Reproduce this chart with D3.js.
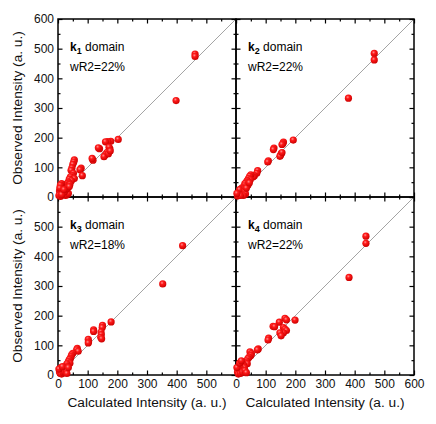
<!DOCTYPE html>
<html>
<head>
<meta charset="utf-8">
<script src="https://cdn.jsdelivr.net/npm/d3@7"></script>
<style>
    body { margin: 0; background: #fff; }
    text { font-family: "Liberation Sans", Arial, sans-serif; }
</style>
</head>
<body>
<div id="svg_container"></div>
<script>
// Calculated vs observed intensity, [calc, obs]
const k1Points = [
    [462, 482], [462, 474], [398, 325], [203, 194], [178, 188], [168, 187], [160, 186],
    [140, 163], [136, 166], [118, 124], [115, 130], [175, 162], [172, 168], [165, 150],
    [160, 142], [155, 136], [170, 146], [176, 155], [78, 97], [74, 92], [82, 72],
    [55, 125], [53, 118], [50, 110], [47, 98], [44, 90], [52, 80], [48, 72], [42, 68],
    [55, 62], [38, 60], [45, 55], [35, 50], [30, 45], [25, 40], [40, 42], [20, 35],
    [15, 30], [12, 45], [8, 40], [5, 20], [10, 15], [18, 10], [25, 5], [30, 8], [35, 12],
    [3, 5], [8, 2], [15, 22], [22, 18], [28, 25], [32, 30], [38, 35], [6, 30], [12, 8], [20, 25]
];
const k2Points = [
    [466, 484], [466, 462], [379, 333], [193, 192], [160, 185], [158, 180], [155, 177],
    [128, 165], [126, 160], [153, 147], [150, 141], [148, 137], [155, 150], [109, 122],
    [107, 118], [73, 89], [70, 80], [62, 72], [58, 68], [50, 75], [46, 70], [42, 62],
    [48, 58], [38, 55], [35, 50], [30, 45], [40, 40], [28, 38], [22, 32], [18, 28],
    [25, 25], [15, 20], [10, 15], [20, 12], [8, 8], [5, 3], [12, 25], [30, 20], [32, 10],
    [25, 5], [15, 5], [3, 12], [35, 30], [45, 48]
];
const k3Points = [
    [420, 436], [353, 307], [179, 179], [150, 167], [149, 160], [120, 152], [120, 147],
    [145, 145], [146, 136], [144, 127], [147, 122], [102, 120], [103, 112], [102, 108],
    [65, 90], [63, 85], [68, 80], [50, 73], [46, 68], [44, 62], [42, 56], [38, 52],
    [35, 45], [40, 40], [30, 38], [28, 30], [25, 25], [20, 20], [15, 15], [10, 25],
    [5, 10], [8, 5], [12, 3], [18, 8], [22, 12], [28, 15], [30, 5], [3, 20], [15, 28], [35, 25]
];
const k4Points = [
    [438, 468], [438, 444], [381, 329], [199, 185], [165, 191], [170, 186], [146, 178],
    [125, 164], [130, 163], [160, 160], [165, 155], [170, 150], [160, 142], [148, 142],
    [152, 132], [110, 124], [108, 118], [75, 88], [72, 85], [47, 78], [52, 72], [50, 66],
    [44, 60], [40, 55], [35, 48], [30, 42], [38, 38], [25, 35], [20, 30], [28, 25],
    [15, 22], [10, 18], [5, 10], [8, 3], [15, 5], [22, 10], [30, 15], [35, 8], [3, 25],
    [12, 40], [18, 48]
];

const domainNames = ["1", "2", "3", "4"];
const wR2Labels = ["wR2=22%", "wR2=22%", "wR2=18%", "wR2=22%"];
const majorTicks = [0, 100, 200, 300, 400, 500, 600];
const minorTicks = [50, 150, 250, 350, 450, 550];

function createChart() {
    let width = 436;
    let height = 424;
    let left = 58, top = 19, size = 178;

    const svg = d3.select('#svg_container').append("svg")
        .attr("width", width)
        .attr("height", height);

    // shaded ball look of the markers
    const grad = svg.append("defs").append("radialGradient")
        .attr("id", "ball")
        .attr("cx", "40%").attr("cy", "35%").attr("r", "65%");
    grad.append("stop").attr("offset", "0%").attr("stop-color", "#ff9090");
    grad.append("stop").attr("offset", "35%").attr("stop-color", "#ff1a1a");
    grad.append("stop").attr("offset", "100%").attr("stop-color", "#cc0000");

    let panels = [k1Points, k2Points, k3Points, k4Points].map((pts, i) => {
        return { pts: pts, col: i % 2, row: Math.floor(i / 2), name: domainNames[i], wr: wR2Labels[i] };
    });

    panels.forEach(p => {
        let x0 = left + p.col * size;
        let y0 = top + p.row * size;
        const x = d3.scaleLinear().domain([0, 600]).range([x0, x0 + size]);
        const y = d3.scaleLinear().domain([0, 600]).range([y0 + size, y0]);

        const g = svg.append("g");

        // y = x reference line
        g.append("line")
            .attr("x1", x(0)).attr("y1", y(0))
            .attr("x2", x(600)).attr("y2", y(600))
            .attr("stroke", "#9a9a9a")
            .attr("stroke-width", 0.9);

        // ticks on all four sides, pointing in
        let showY = p.col === 0;
        let showX = p.row === 1;
        let yFmt = d => (showY && !(p.row === 1 && d === 600)) ? d : "";
        let xFmt = d => (showX && !(p.col === 0 && d === 600)) ? d : "";

        const axes = [
            [d3.axisLeft(y), `translate(${x0},0)`, yFmt],
            [d3.axisRight(y), `translate(${x0 + size},0)`, () => ""],
            [d3.axisTop(x), `translate(0,${y0})`, () => ""],
            [d3.axisBottom(x), `translate(0,${y0 + size})`, xFmt]
        ];
        axes.forEach(([ax, tr, fmt]) => {
            g.append("g").attr("transform", tr)
                .call(ax.tickValues(majorTicks).tickSize(-4.5).tickPadding(4).tickFormat(fmt))
                .call(s => s.select(".domain").remove())
                .call(s => s.selectAll("line").attr("stroke-width", 1.2))
                .call(s => s.selectAll("text").attr("fill", "#111").style("font-size", "12px")
                    .style("font-family", '"Liberation Sans", Arial, sans-serif'));
        });
        const minorAxes = [
            [d3.axisLeft(y), `translate(${x0},0)`],
            [d3.axisRight(y), `translate(${x0 + size},0)`],
            [d3.axisTop(x), `translate(0,${y0})`],
            [d3.axisBottom(x), `translate(0,${y0 + size})`]
        ];
        minorAxes.forEach(([ax, tr]) => {
            g.append("g").attr("transform", tr)
                .call(ax.tickValues(minorTicks).tickSize(-2.5).tickFormat(""))
                .call(s => s.select(".domain").remove())
                .call(s => s.selectAll("line").attr("stroke-width", 1.2));
        });

        g.append("rect")
            .attr("x", x0).attr("y", y0)
            .attr("width", size).attr("height", size)
            .attr("fill", "none")
            .attr("stroke", "#000")
            .attr("stroke-width", 1.5);

        // label
        const lab = g.append("text")
            .attr("x", x0 + 12).attr("y", y0 + 32)
            .attr("fill", "#000")
            .style("font-size", "12px");
        lab.append("tspan").attr("font-weight", "bold").text("k");
        lab.append("tspan").attr("font-weight", "bold").attr("dy", 3)
            .style("font-size", "9px").text(p.name);
        lab.append("tspan").attr("dy", -3).text(" domain");

        g.append("text")
            .attr("x", x0 + 12).attr("y", y0 + 52)
            .attr("fill", "#000")
            .style("font-size", "12px")
            .text(p.wr);

        p.g = g; p.x = x; p.y = y;
    });

    // markers on top of everything
    panels.forEach(p => {
        svg.append("g")
            .selectAll("circle")
            .data(p.pts)
            .join("circle")
            .attr("cx", d => p.x(d[0]))
            .attr("cy", d => p.y(d[1]))
            .attr("r", 3.6)
            .attr("fill", "url(#ball)");
    });

    // axis titles
    [0, 1].forEach(r => {
        svg.append("text")
            .attr("transform", `translate(22,${top + r * size + size / 2}) rotate(-90)`)
            .attr("text-anchor", "middle")
            .style("font-size", "13.7px")
            .attr("fill", "#111")
            .text("Observed Intensity (a. u.)");
    });
    [0, 1].forEach(c => {
        svg.append("text")
            .attr("x", left + c * size + size / 2)
            .attr("y", 407)
            .attr("text-anchor", "middle")
            .style("font-size", "13.7px")
            .attr("fill", "#111")
            .text("Calculated Intensity (a. u.)");
    });
}

document.addEventListener('DOMContentLoaded', function (e) {
    createChart();
});
</script>
</body>
</html>
